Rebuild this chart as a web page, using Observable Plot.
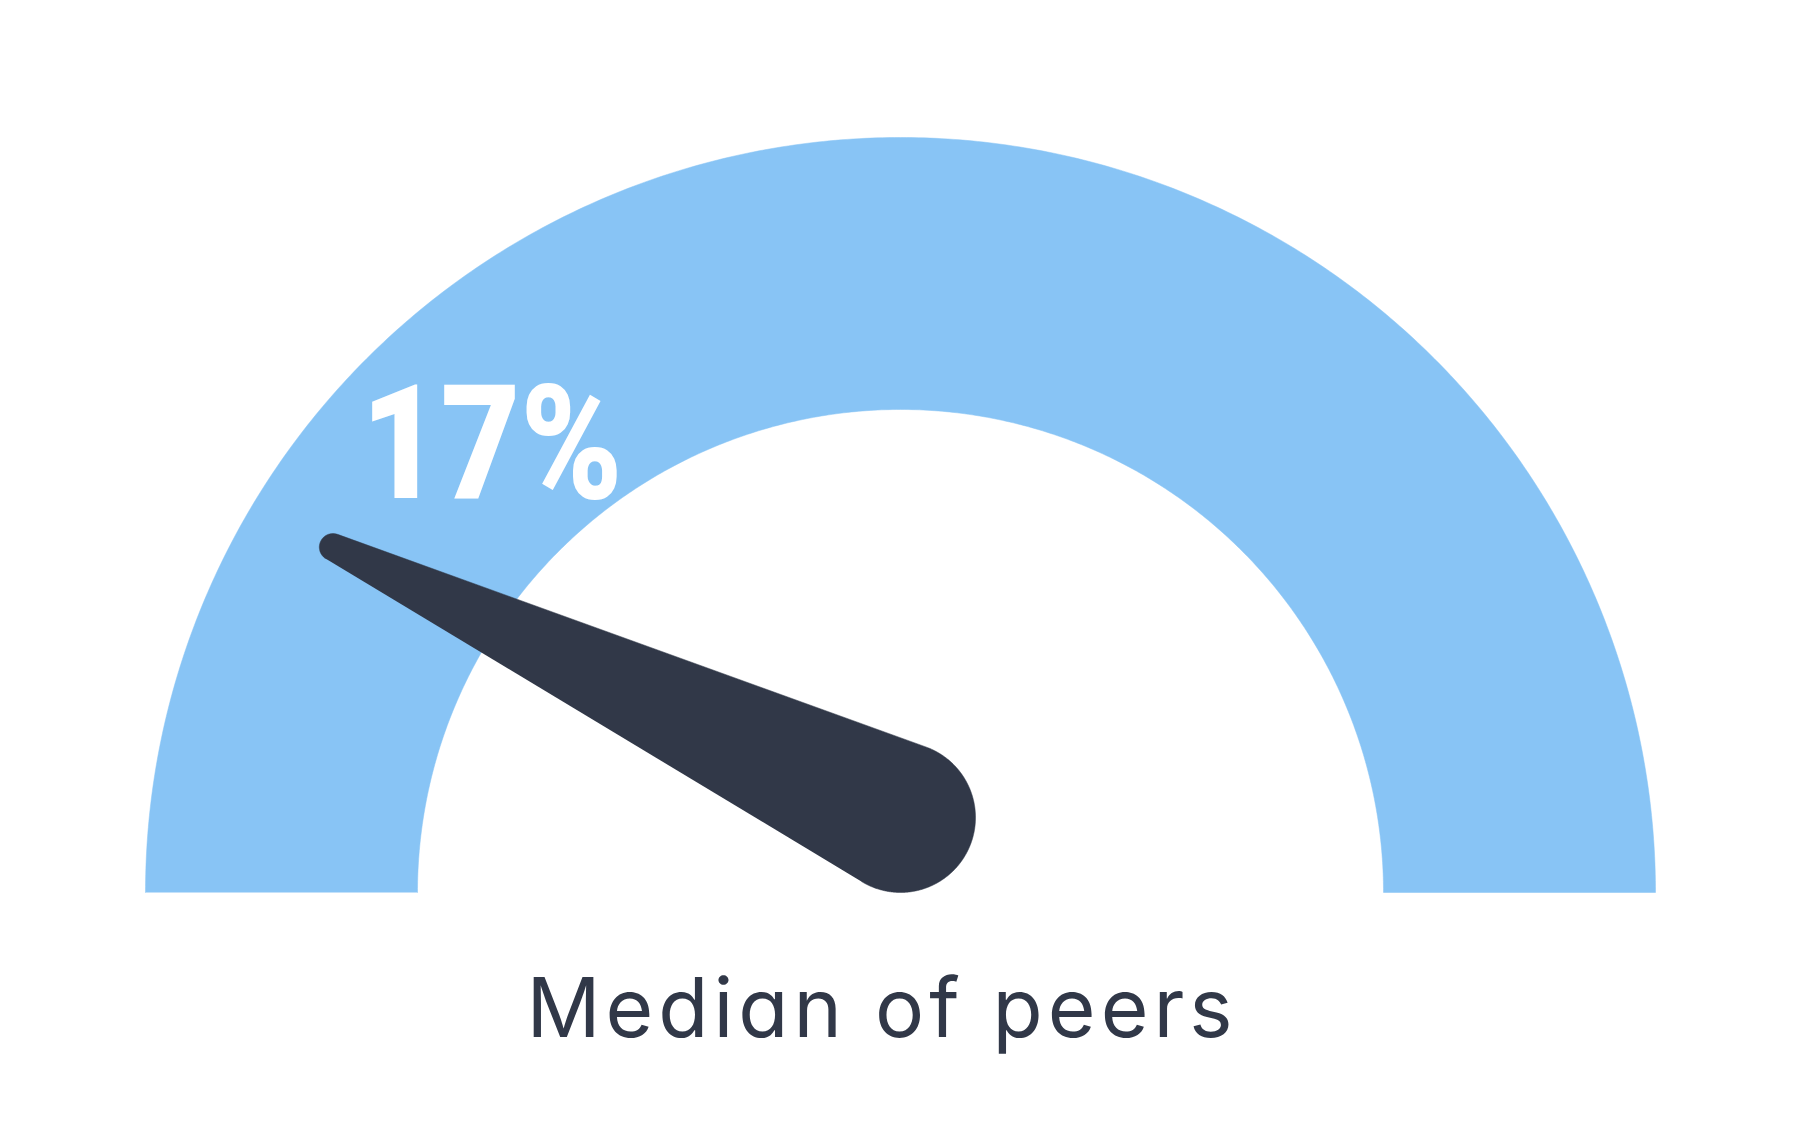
<!DOCTYPE html>
<html>
<head>
<meta charset="utf-8">
<script src="https://cdn.jsdelivr.net/npm/d3@7"></script>
<script src="https://cdn.jsdelivr.net/npm/@observablehq/plot@0.6"></script>
<style>
  html, body { margin: 0; padding: 0; background: #ffffff; }
  #wrap { position: relative; width: 1800px; height: 1125px; overflow: hidden; }
  #caption {
    position: absolute; left: 0; top: 967px; width: 1764px;
    text-align: center; font-family: Inter, "Noto Sans", sans-serif;
    font-feature-settings: "cv11" 1;
    font-size: 82px; line-height: 82px; color: #313848; letter-spacing: 5px;
  }
</style>
</head>
<body>
<div id="wrap"><div id="chart"></div><div id="caption"></div></div>
<script>
// ---- data ----
const gaugeRange = [0, 100];        // scale of the gauge (percent)
const needleValues = [17.4];        // needle position
const valueLabels = ["17%"];        // label shown on the gauge
const captions = ["Median of peers"];

// ---- styling ----
const blue = "#88c4f5";
const dark = "#313848";
const innerRatio = 483 / 755;      // inner radius / outer radius
const needleLen = 0.88;             // tip distance as fraction of outer radius
const tipR = 0.018;
const baseR = 75 / 755;
const labelSqueeze = 0.86;

const toAngle = v => Math.PI * (1 - (v - gaugeRange[0]) / (gaugeRange[1] - gaugeRange[0]));

// band polygon built from the gauge range
const steps = d3.range(gaugeRange[0], gaugeRange[1] + 0.001, 0.25);
const band = [
  ...steps.map(v => ({x: Math.cos(toAngle(v)), y: Math.sin(toAngle(v))})),
  ...steps.slice().reverse().map(v => ({x: innerRatio * Math.cos(toAngle(v)), y: innerRatio * Math.sin(toAngle(v))}))
];

// needle: hull of base circle and tip circle
const theta = toAngle(needleValues[0]);
const C1 = {x: 0, y: baseR};
const C2 = {x: needleLen * Math.cos(theta), y: needleLen * Math.sin(theta)};
const dxv = C2.x - C1.x, dyv = C2.y - C1.y, D = Math.hypot(dxv, dyv);
const phi = Math.atan2(dyv, dxv);
const alpha = Math.acos((baseR - tipR) / D);
const needle = [];
for (let a = phi + alpha; a <= phi + 2 * Math.PI - alpha + 1e-9; a += 0.01)
  needle.push({x: C1.x + baseR * Math.cos(a), y: C1.y + baseR * Math.sin(a)});
for (let a = phi - alpha; a <= phi + alpha + 1e-9; a += 0.02)
  needle.push({x: C2.x + tipR * Math.cos(a), y: C2.y + tipR * Math.sin(a)});

const W = 1800, H = 960, cx = 900, cy = 892, R = 755;

const chart = Plot.plot({
  width: W, height: H, margin: 0,
  x: {domain: [-cx / R, (W - cx) / R], axis: null},
  y: {domain: [-(H - cy) / R, cy / R], axis: null},
  marks: [
    Plot.line(band, {x: "x", y: "y", z: null, fill: blue, stroke: blue, strokeWidth: 0.5}),
    Plot.line(needle, {x: "x", y: "y", z: null, fill: dark, stroke: dark, strokeWidth: 0.5}),
    Plot.text(valueLabels, {
      x: () => C2.x, y: () => C2.y, text: d => d,
      dx: 28, dy: -49, textAnchor: "start", lineAnchor: "bottom",
      fill: "#ffffff", fontSize: 160, fontWeight: 900,
      fontFamily: "Roboto, 'DejaVu Sans', sans-serif"
    })
  ]
});

// squeeze the value label horizontally to mimic a condensed face
d3.select(chart).selectAll('g[aria-label="text"] text').each(function () {
  const t = this.getAttribute("transform") || "";
  const x = +(this.getAttribute("x") || 0), y = +(this.getAttribute("y") || 0);
  this.removeAttribute("x"); this.removeAttribute("y");
  this.setAttribute("transform", `${t} translate(${x},${y}) scale(${labelSqueeze},1)`);
});

document.getElementById("chart").appendChild(chart);
document.getElementById("caption").textContent = captions[0];
</script>
</body>
</html>
